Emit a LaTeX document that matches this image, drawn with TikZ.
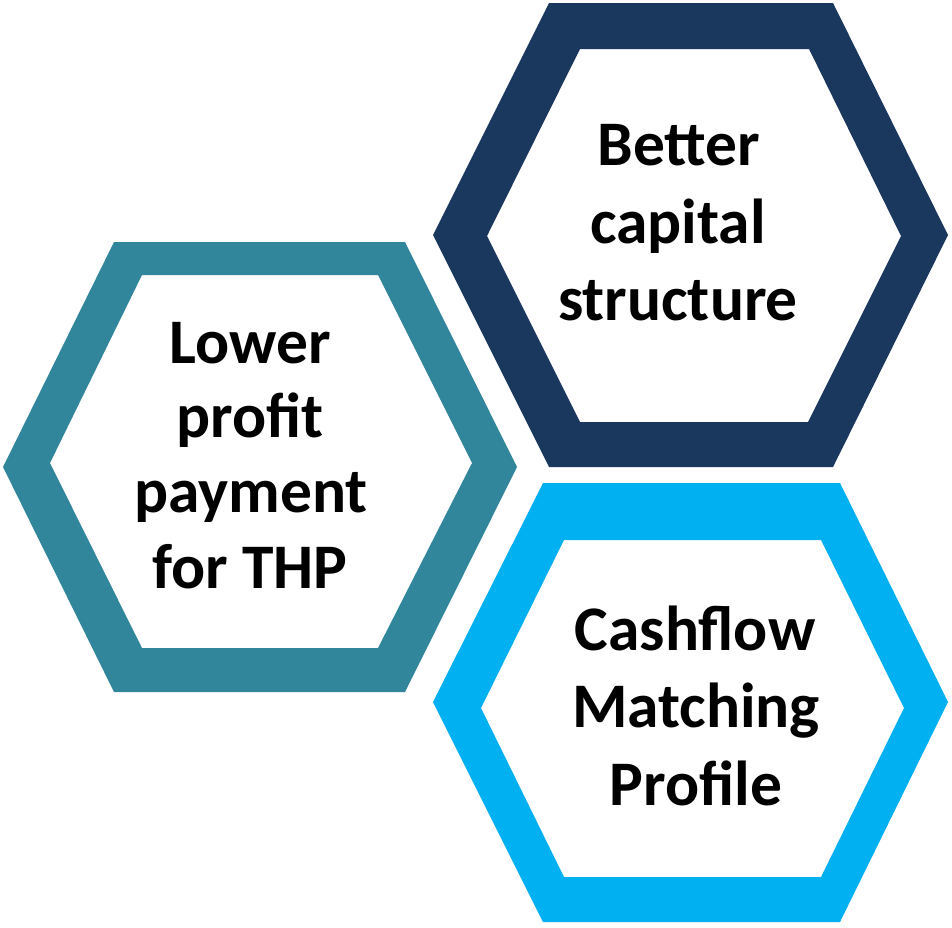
\documentclass[tikz,border=0pt]{standalone}
\usepackage{fontspec}
\setmainfont{Carlito}
\definecolor{navy}{HTML}{1A375E}
\definecolor{teal}{HTML}{31869B}
\definecolor{sky}{HTML}{00B0F0}
\begin{document}
\begin{tikzpicture}[x=1pt,y=-1pt,
  ring/.style={fill=#1,even odd rule,draw=none},
  label/.style={anchor=base,inner sep=0pt,font=\fontsize{63.5}{76}\selectfont\bfseries,text=black}]
\useasboundingbox[fill=white] (0,0) rectangle (952,927);

% hexagonal rings: outer outline, then inner cut-out
\path[ring=navy]
  (433,235) -- (549,3) -- (833,3) -- (948,235) -- (833,467) -- (549,467) -- cycle
  (487,236) -- (580,49) -- (809,49) -- (901,236) -- (808,422) -- (580,422) -- cycle;
\path[ring=teal]
  (3,467) -- (114,242) -- (405,242) -- (517,467) -- (405,692) -- (114,692) -- cycle
  (50,463) -- (142,275) -- (378,275) -- (472,463) -- (378,648) -- (142,648) -- cycle;
\path[ring=sky]
  (433,702) -- (543,483) -- (840,483) -- (948,702) -- (840,922) -- (543,922) -- cycle
  (481,708) -- (564,540) -- (821,540) -- (904,708) -- (821,877) -- (564,877) -- cycle;

% labels, one line per node
\node[label] (b1) at (679,165) {Better};
\node[label] (b2) at (678,243) {capital};
\node[label] (b3) at (678,320) {structure};

\node[label] (l1) at (250,363) {Lower};
\node[label] (l2) at (250,437) {profit};
\node[label] (l3) at (251,512) {payment};
\node[label] (l4) at (250,588) {for THP};

\node[label] (c1) at (695,650) {Cashflow};
\node[label] (c2) at (696,727) {Matching};
\node[label] (c3) at (696,805) {Profile};
\end{tikzpicture}
\end{document}
